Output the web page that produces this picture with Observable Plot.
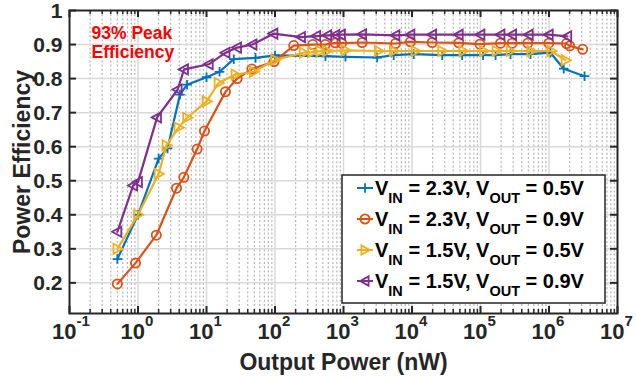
<!DOCTYPE html>
<html><head><meta charset="utf-8">
<script src="https://cdn.jsdelivr.net/npm/d3@7"></script>
<script src="https://cdn.jsdelivr.net/npm/@observablehq/plot@0.6"></script>
<style>
html,body{margin:0;padding:0;background:#fff;}
#chart{position:relative;width:636px;height:379px;}
#chart svg{font-family:"Liberation Sans",Arial,sans-serif;overflow:visible;}
</style></head><body><div id="chart"></div>
<script>
// ---- data ----
const seriesVin = ["2.3V", "2.3V", "1.5V", "1.5V"];
const seriesVout = ["0.5V", "0.9V", "0.5V", "0.9V"];
const seriesColors = ["#0072BD", "#D95319", "#EDB120", "#7E2F8E"];

// VIN = 2.3V, VOUT = 0.5V
const power_23_05 = [0.5, 1.0, 2.0, 2.7, 4.1, 5.2, 10, 15.5, 25, 52, 100, 545, 1070, 3100, 5400, 10600, 27600, 54000, 109000, 166000, 274000, 537000, 1050000, 1640000, 3300000];
const eff_23_05   = [0.27, 0.40, 0.565, 0.595, 0.753, 0.782, 0.804, 0.82, 0.857, 0.861, 0.868, 0.866, 0.864, 0.862, 0.869, 0.872, 0.869, 0.869, 0.869, 0.869, 0.872, 0.872, 0.876, 0.829, 0.807];
// VIN = 2.3V, VOUT = 0.9V
const power_23_09 = [0.5, 0.92, 1.85, 3.65, 4.67, 7.3, 9.35, 18.9, 28, 46, 97, 188, 355, 540, 760, 940, 1875, 5740, 9500, 19700, 48200, 98000, 196000, 290000, 490000, 993000, 1800000, 2000000, 3100000];
const eff_23_09   = [0.197, 0.258, 0.34, 0.478, 0.51, 0.593, 0.646, 0.761, 0.80, 0.828, 0.85, 0.897, 0.90, 0.90, 0.905, 0.904, 0.906, 0.903, 0.908, 0.906, 0.905, 0.901, 0.904, 0.904, 0.904, 0.904, 0.903, 0.896, 0.886];
// VIN = 1.5V, VOUT = 0.5V
const power_15_05 = [0.5, 1.0, 2.0, 2.6, 3.9, 5.2, 10, 15, 26.5, 49, 100, 263, 349, 461, 578, 1070, 3270, 5420, 11200, 27600, 55900, 112000, 171000, 274000, 550000, 1080000, 1740000];
const eff_15_05   = [0.30, 0.40, 0.52, 0.604, 0.656, 0.685, 0.733, 0.787, 0.812, 0.82, 0.855, 0.876, 0.878, 0.881, 0.881, 0.883, 0.881, 0.881, 0.881, 0.881, 0.881, 0.881, 0.881, 0.881, 0.881, 0.881, 0.854];
// VIN = 1.5V, VOUT = 0.9V
const power_15_09 = [0.5, 0.85, 1.0, 1.9, 3.8, 4.7, 10.8, 19, 28, 47, 95, 240, 400, 580, 760, 920, 1875, 5740, 9500, 19700, 48200, 100000, 196000, 290000, 507000, 993000, 1850000];
const eff_15_09   = [0.35, 0.486, 0.496, 0.686, 0.768, 0.827, 0.842, 0.876, 0.891, 0.90, 0.932, 0.922, 0.925, 0.927, 0.928, 0.929, 0.93, 0.927, 0.929, 0.929, 0.929, 0.929, 0.929, 0.929, 0.929, 0.929, 0.924];

const xDecades = [0.1, 1, 10, 100, 1e3, 1e4, 1e5, 1e6, 1e7];
const xExponents = ["-1", "0", "1", "2", "3", "4", "5", "6", "7"];
const yTicks = [0.2, 0.3, 0.4, 0.5, 0.6, 0.7, 0.8, 0.9, 1];
const yTickLabels = ["0.2", "0.3", "0.4", "0.5", "0.6", "0.7", "0.8", "0.9", "1"];
const xLabel = "Output Power (nW)";
const yLabel = "Power Efficiency";
const annotation = "93% Peak\nEfficiency";

// ---- layout ----
const W = 636, H = 379;
const mL = 69, mR = 19, mT = 10, mB = 66;
const innerW = W - mL - mR, innerH = H - mT - mB;
const axisColor = "#262626";

const minorTicks = [];
for (let i = 0; i < xDecades.length - 1; i++) for (let k = 2; k <= 9; k++) minorTicks.push(xDecades[i] * k);

// custom marker symbols
const triRight = {draw(ctx, size) { const r = Math.sqrt(size / Math.PI); ctx.moveTo(1.15 * r, 0); ctx.lineTo(-0.85 * r, -1.1 * r); ctx.lineTo(-0.85 * r, 1.1 * r); ctx.closePath(); }};
const triLeft = {draw(ctx, size) { const r = Math.sqrt(size / Math.PI); ctx.moveTo(-1.15 * r, 0); ctx.lineTo(0.85 * r, -1.1 * r); ctx.lineTo(0.85 * r, 1.1 * r); ctx.closePath(); }};
const symbols = ["plus", "circle", triRight, triLeft];
const symbolR = [3.2, 4.6, 4.6, 4.6];

const series = [
  [power_23_05, eff_23_05],
  [power_23_09, eff_23_09],
  [power_15_05, eff_15_05],
  [power_15_09, eff_15_09]
].map(([xs, ys], s) => xs.map((x, i) => ({x, y: ys[i], s})));

const marks = [
  Plot.ruleX(minorTicks, {x: d => d, stroke: "#b5b5b5", strokeWidth: 1.2, strokeDasharray: "2,2.2"}),
  Plot.ruleX(xDecades.slice(1, -1), {x: d => d, stroke: "#d9d9d9", strokeWidth: 1.5}),
  Plot.ruleY(yTicks.slice(0, -1), {y: d => d, stroke: "#d9d9d9", strokeWidth: 1.5})
];
series.forEach((data, s) => {
  marks.push(Plot.line(data, {x: "x", y: "y", stroke: seriesColors[s], strokeWidth: 2.2}));
  marks.push(Plot.dot(data, {x: "x", y: "y", symbol: symbols[s], r: symbolR[s], stroke: seriesColors[s], fill: "none", strokeWidth: 1.8}));
});
marks.push(
  Plot.frame({stroke: axisColor, strokeWidth: 2}),
  Plot.tickX(xDecades, {x: d => d, insetTop: innerH - 7, stroke: axisColor, strokeWidth: 2}),
  Plot.tickX(xDecades, {x: d => d, insetBottom: innerH - 7, stroke: axisColor, strokeWidth: 2}),
  Plot.tickX(minorTicks, {x: d => d, insetTop: innerH - 4, stroke: axisColor, strokeWidth: 1.5}),
  Plot.tickX(minorTicks, {x: d => d, insetBottom: innerH - 4, stroke: axisColor, strokeWidth: 1.5}),
  Plot.tickY(yTicks, {y: d => d, insetRight: innerW - 7, stroke: axisColor, strokeWidth: 2}),
  Plot.tickY(yTicks, {y: d => d, insetLeft: innerW - 7, stroke: axisColor, strokeWidth: 2}),
  Plot.text(yTicks, {y: d => d, text: (d, i) => yTickLabels[i], frameAnchor: "left", dx: -7, dy: 0.5, textAnchor: "end", lineAnchor: "middle", fontSize: 21, fontWeight: "bold", fill: axisColor}),
  Plot.text(xDecades, {x: d => d, text: () => "10", frameAnchor: "bottom", dy: 18, dx: 7, textAnchor: "end", lineAnchor: "middle", fontSize: 22, fontWeight: "bold", fill: axisColor}),
  Plot.text(xDecades, {x: d => d, text: (d, i) => xExponents[i], frameAnchor: "bottom", dy: 8, dx: 7, textAnchor: "start", lineAnchor: "middle", fontSize: 15, fontWeight: "bold", fill: axisColor}),
  Plot.text([xLabel], {text: d => d, frameAnchor: "bottom", dy: 49, textAnchor: "middle", lineAnchor: "middle", fontSize: 23, fontWeight: "bold", fill: axisColor}),
  Plot.text([yLabel], {text: d => d, frameAnchor: "left", dx: -47, rotate: -90, textAnchor: "middle", lineAnchor: "middle", fontSize: 23, fontWeight: "bold", fill: axisColor}),
  Plot.text([annotation], {text: d => d, frameAnchor: "top-left", dx: 22, dy: 15, textAnchor: "start", lineAnchor: "top", lineHeight: 1.08, fontSize: 17.5, fontWeight: "bold", fill: "#ff0000"})
);

const chart = Plot.plot({
  width: W, height: H,
  marginLeft: mL, marginRight: mR, marginTop: mT, marginBottom: mB,
  x: {type: "log", domain: [0.1, 1e7], axis: null},
  y: {domain: [0.11, 1], axis: null},
  marks
});
document.getElementById("chart").appendChild(chart);

// ---- legend (inside the axes, drawn into the Plot SVG) ----
const svg = d3.select(chart);
const lg = svg.append("g").attr("transform", "translate(342,175)").attr("text-anchor", "start");
lg.append("rect").attr("width", 263).attr("height", 128).attr("fill", "#fff").attr("stroke", axisColor).attr("stroke-width", 1.5);
const legendSymbolPaths = [
  d3.symbol(d3.symbolPlus, Math.PI * symbolR[0] ** 2)(),
  d3.symbol(d3.symbolCircle, Math.PI * symbolR[1] ** 2)(),
  d3.symbol(triRight, Math.PI * 4.2 ** 2)(),
  d3.symbol(triLeft, Math.PI * 4.2 ** 2)()
];
seriesVin.forEach((vin, i) => {
  const base = 20 + i * 31;
  const cy = base - 7;
  const row = lg.append("g");
  row.append("line").attr("x1", 15).attr("x2", 31).attr("y1", cy).attr("y2", cy).attr("stroke", seriesColors[i]).attr("stroke-width", 2);
  row.append("path").attr("d", legendSymbolPaths[i]).attr("transform", `translate(23,${cy})`).attr("fill", "none").attr("stroke", seriesColors[i]).attr("stroke-width", 1.8);
  const t = row.append("text").attr("x", 33).attr("y", base).attr("text-anchor", "start").attr("font-size", 20).attr("font-weight", "bold").attr("fill", "#000");
  t.append("tspan").text("V");
  t.append("tspan").attr("dy", 8).attr("font-size", 14.5).text("IN");
  t.append("tspan").attr("dy", -8).text(` = ${vin}, V`);
  t.append("tspan").attr("dy", 8).attr("font-size", 14.5).text("OUT");
  t.append("tspan").attr("dy", -8).text(` = ${seriesVout[i]}`);
});
</script></body></html>
